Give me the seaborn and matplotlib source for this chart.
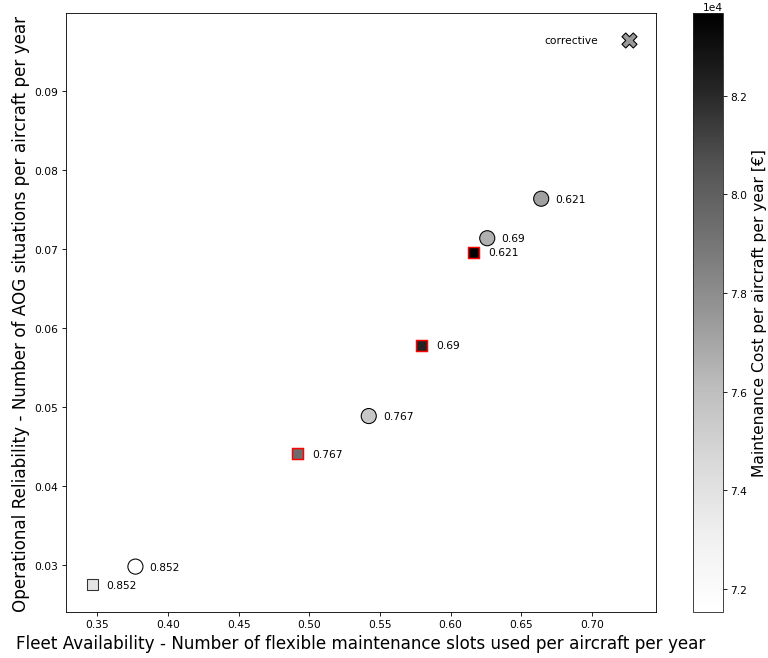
import numpy as np
import pandas as pd
import matplotlib
matplotlib.use("Agg")
import matplotlib.pyplot as plt
import seaborn as sns
from matplotlib.colors import Normalize
from matplotlib.cm import ScalarMappable

# Flexible-maintenance policies (circles) at different thresholds
circ_threshold = ["0.852", "0.767", "0.69", "0.621"]
circ_avail = [0.3769, 0.5421, 0.6260, 0.6642]
circ_aog = [0.0298, 0.04885, 0.07135, 0.07635]
circ_cost = [71530, 75490, 76600, 77220]

# Alternative policies (squares) at the same thresholds
sq_threshold = ["0.852", "0.767", "0.69", "0.621"]
sq_avail = [0.3465, 0.4919, 0.5797, 0.6165]
sq_aog = [0.0275, 0.0441, 0.0578, 0.06955]
sq_cost = [73840, 79440, 82280, 83680]
sq_edge = ["#333333", "red", "red", "red"]

# Corrective-only baseline
corr_label = "corrective"
corr_avail = [0.7265]
corr_aog = [0.0964]
corr_cost = [77480]

cost_min, cost_max = 71530, 83680

sns.set_style("white")
plt.rcParams["font.family"] = ["DejaVu Sans"]
plt.rcParams.update({"text.color": "black", "axes.labelcolor": "black",
                     "xtick.color": "black", "ytick.color": "black"})

fig = plt.figure(figsize=(10, 8.58), dpi=76.8)
ax = fig.add_axes([0.0855, 0.0698, 0.7687, 0.909])
cax = fig.add_axes([0.9023, 0.0698, 0.039, 0.909])

norm = Normalize(vmin=cost_min, vmax=cost_max)
cmap = plt.get_cmap("Greys")

circ_df = pd.DataFrame({"avail": circ_avail, "aog": circ_aog, "cost": circ_cost})
sns.scatterplot(data=circ_df, x="avail", y="aog", hue="cost", palette="Greys",
                hue_norm=norm, s=200, marker="o", edgecolor="black",
                linewidth=1.0, legend=False, ax=ax, zorder=3)

sq_df = pd.DataFrame({"avail": sq_avail, "aog": sq_aog, "cost": sq_cost})
sns.scatterplot(data=sq_df, x="avail", y="aog", hue="cost",
                palette="Greys", hue_norm=norm, s=110, marker="s",
                linewidth=1.4, legend=False, ax=ax, zorder=3)
ax.collections[-1].set_edgecolors(sq_edge)
ax.collections[-1].set_linewidths([1.0, 1.4, 1.4, 1.4])

corr_df = pd.DataFrame({"avail": corr_avail, "aog": corr_aog, "cost": corr_cost})
sns.scatterplot(data=corr_df, x="avail", y="aog", hue="cost", palette="Greys",
                hue_norm=norm, s=200, marker="X", edgecolor="black",
                linewidth=1.0, legend=False, ax=ax, zorder=3)

for xv, yv, t in zip(circ_avail, circ_aog, circ_threshold):
    ax.text(xv + 0.01, yv, t, fontsize=10, va="center", ha="left")
for xv, yv, t in zip(sq_avail, sq_aog, sq_threshold):
    ax.text(xv + 0.01, yv, t, fontsize=10, va="center", ha="left")
ax.text(corr_avail[0] - 0.06, corr_aog[0], corr_label, fontsize=10,
        va="center", ha="left")

ax.set_xlabel("Fleet Availability - Number of flexible maintenance slots used per aircraft per year",
              fontsize=15.7)
ax.set_ylabel("Operational Reliability - Number of AOG situations per aircraft per year",
              fontsize=15.7)
ax.tick_params(axis="both", which="major", labelsize=10, length=3.5,
               width=0.8, direction="out", bottom=True, left=True)
for sp in ax.spines.values():
    sp.set_color("black")
    sp.set_linewidth(0.8)

sm = ScalarMappable(norm=norm, cmap=cmap)
cb = fig.colorbar(sm, cax=cax)
cb.set_label("Maintenance Cost per aircraft per year [€]", fontsize=14.5)
cb.ax.tick_params(labelsize=10, length=3.5, width=0.8, color="black")
cb.formatter.set_powerlimits((0, 0))
cb.update_ticks()
cb.outline.set_linewidth(0.8)

fig.savefig("out.png", dpi=76.8)
